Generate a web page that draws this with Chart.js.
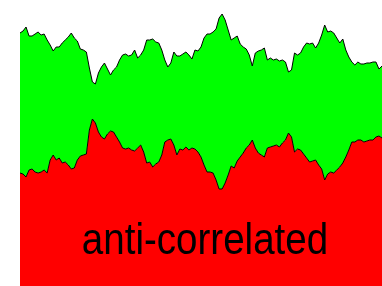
<!DOCTYPE html>
<html>
<head>
<meta charset="utf-8">
<script src="https://cdn.jsdelivr.net/npm/chart.js@4/dist/chart.umd.min.js"></script>
<style>
	html, body { margin: 0; padding: 0; background: #ffffff; }
	#wrap { position: relative; width: 382px; height: 286px; }
</style>
</head>
<body>
<div id="wrap"><canvas id="myChart"></canvas></div>
<script>
// lower series (red)
var lowerValues = [
	113, 112, 109, 116, 117, 114, 113, 114, 116, 113,
	126, 131, 126, 128, 123, 124, 121, 117, 118, 126,
	130, 131, 132, 156, 167, 163, 154, 149, 147, 152,
	155, 154, 149, 144, 138, 137, 138, 136, 135, 138,
	141, 134, 123, 124, 119, 122, 124, 131, 144, 146,
	147, 141, 131, 137, 136, 139, 136, 138, 137, 134,
	129, 121, 114, 114, 113, 106, 97, 97, 103, 111,
	120, 118, 125, 129, 133, 138, 141, 146, 138, 133,
	131, 129, 138, 139, 140, 141, 139, 143, 146, 153,
	149, 134, 137, 136, 132, 128, 124, 125, 126, 121,
	117, 106, 112, 114, 113, 116, 119, 123, 129, 136,
	144, 144, 146, 146, 144, 145, 146, 146, 149, 150,
	148
];

// upper series (top of green)
var upperValues = [
	253, 255, 259, 250, 250, 252, 254, 251, 252, 246,
	241, 235, 239, 239, 243, 246, 249, 253, 248, 245,
	237, 236, 234, 218, 204, 202, 213, 219, 223, 217,
	211, 216, 219, 226, 231, 232, 230, 231, 236, 228,
	231, 236, 246, 246, 247, 244, 243, 236, 226, 219,
	223, 234, 230, 230, 232, 234, 231, 227, 236, 235,
	239, 248, 252, 252, 254, 257, 268, 272, 266, 256,
	246, 248, 250, 242, 239, 237, 231, 220, 233, 235,
	236, 238, 226, 228, 226, 227, 225, 226, 224, 214,
	216, 233, 231, 233, 239, 243, 242, 243, 238, 243,
	251, 261, 254, 255, 253, 248, 243, 247, 236, 229,
	224, 221, 224, 222, 222, 223, 223, 224, 224, 217,
	220
];

var steps = [];
for (var i = 0; i < lowerValues.length; i++) {
	steps.push(i);
}

var yMin = 0;
var yMax = 286;
var caption = 'anti-correlated';

// big caption over the plot
var captionPlugin = {
	id: 'caption',
	afterDatasetsDraw: function(chart) {
		var ctx = chart.ctx;
		var area = chart.chartArea;
		ctx.save();
		ctx.font = '44px "Liberation Sans", Arial, sans-serif';
		ctx.fillStyle = '#000000';
		ctx.textAlign = 'center';
		ctx.textBaseline = 'alphabetic';
		ctx.translate(205, 254);
		ctx.scale(0.876, 1);
		ctx.fillText(caption, 0, 0);
		ctx.restore();
	}
};

var ctx = document.getElementById('myChart').getContext('2d');

var chart = new Chart(ctx, {
	type: 'line',
	data: {
		labels: steps,
		datasets: [{
			label: 'lower',
			data: lowerValues,
			borderColor: '#000000',
			borderWidth: 1,
			backgroundColor: '#ff0000',
			fill: 'origin',
			pointRadius: 0,
			tension: 0
		}, {
			label: 'upper',
			data: upperValues,
			borderColor: '#000000',
			borderWidth: 1,
			backgroundColor: '#00ff00',
			fill: '-1',
			pointRadius: 0,
			tension: 0
		}]
	},
	options: {
		responsive: true,
		maintainAspectRatio: false,
		animation: false,
		layout: { padding: { left: 20, right: 0, top: 0, bottom: 0 } },
		plugins: {
			legend: { display: false },
			tooltip: { enabled: false }
		},
		scales: {
			x: { display: false, offset: false },
			y: { display: false, min: yMin, max: yMax }
		}
	},
	plugins: [captionPlugin]
});
</script>
</body>
</html>
